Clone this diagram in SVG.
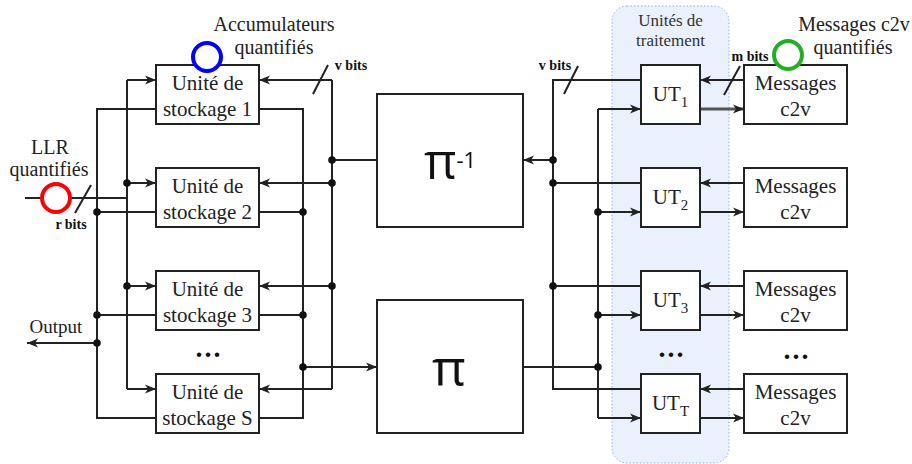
<svg xmlns="http://www.w3.org/2000/svg" width="912" height="464" viewBox="0 0 912 464">
<style>
.box{fill:#fff;stroke:#222;stroke-width:2}
.ln{fill:none;stroke:#222;stroke-width:2}
.ar{fill:none;stroke:#222;stroke-width:2;marker-end:url(#arr)}
.dot{fill:#111}
.t{font-family:"Liberation Serif",serif;font-size:21px;fill:#222;text-anchor:middle}
.lab{font-family:"Liberation Serif",serif;font-size:20px;fill:#222;text-anchor:middle}
.b{font-family:"Liberation Serif",serif;font-size:14px;font-weight:bold;fill:#111;text-anchor:middle}
.pi{font-family:"Open Sans","Noto Sans",sans-serif;fill:#111;text-anchor:middle}
.el{font-family:"Liberation Serif",serif;font-size:28px;font-weight:bold;fill:#111;text-anchor:middle;letter-spacing:2px}
</style>
<defs>
<marker id="arr" markerUnits="userSpaceOnUse" markerWidth="12" markerHeight="10" refX="11" refY="5" orient="auto">
<path d="M0,0.5 L11,5 L0,9.5 L3,5 Z" fill="#222"/>
</marker>
</defs>

<g id="container">
<rect x="612" y="6" width="117" height="457" rx="15" fill="#eaf1fd" stroke="#8fb0df" stroke-width="1" stroke-dasharray="1.5,2"/>
<text class="t" x="670.5" y="26" style="font-size:17px;fill:#333">Unités de</text>
<text class="t" x="670.5" y="46" style="font-size:17px;fill:#333">traitement</text>
</g>

<g id="connectors">
<path class="ln" d="M156,109 H97 V418 H156 M97,212 H156 M97,315 H156"/>
<path class="ar" d="M97,343 H27"/>
<path class="ln" d="M127,80 V389 M25,198 H127"/>
<path class="ar" d="M127,80 H156"/>
<path class="ar" d="M127,183 H156"/>
<path class="ar" d="M127,286 H156"/>
<path class="ar" d="M127,389 H156"/>
<path class="ln" d="M75,213 L91,185"/>
<path class="ln" d="M259,109 H303 V418 H259 M259,212 H303 M259,315 H303"/>
<path class="ar" d="M303,367 H377"/>
<path class="ln" d="M332,80 V389 M377,160 H332 M313,94 L328,65"/>
<path class="ar" d="M332,80 H259"/>
<path class="ar" d="M332,183 H259"/>
<path class="ar" d="M332,286 H259"/>
<path class="ar" d="M332,389 H259"/>
<path class="ln" d="M641,80 H553 V389 H641 M553,183 H641 M553,286 H641 M564,94 L578,66"/>
<path class="ar" d="M553,160 H523"/>
<path class="ln" d="M598,109 V418 M523,367 H598"/>
<path class="ar" d="M598,109 H641"/>
<path class="ar" d="M598,212 H641"/>
<path class="ar" d="M598,315 H641"/>
<path class="ar" d="M598,418 H641"/>
<path class="ar" d="M744,80 H700"/>
<path class="ar" d="M700,109 H744" style="stroke:#555;stroke-width:3"/>
<path class="ar" d="M744,183 H700"/>
<path class="ar" d="M700,212 H744"/>
<path class="ar" d="M744,286 H700"/>
<path class="ar" d="M700,315 H744"/>
<path class="ar" d="M744,389 H700"/>
<path class="ar" d="M700,418 H744"/>
<path class="ln" d="M724,95 L740,66"/>
<g class="dot">
<circle cx="97" cy="212" r="3.8"/><circle cx="97" cy="315" r="3.8"/><circle cx="97" cy="343" r="3.8"/>
<circle cx="127" cy="183" r="3.8"/><circle cx="127" cy="286" r="3.8"/>
<circle cx="303" cy="212" r="3.8"/><circle cx="303" cy="315" r="3.8"/><circle cx="303" cy="367" r="3.8"/>
<circle cx="332" cy="160" r="3.8"/><circle cx="332" cy="183" r="3.8"/><circle cx="332" cy="286" r="3.8"/>
<circle cx="553" cy="160" r="3.8"/><circle cx="553" cy="183" r="3.8"/><circle cx="553" cy="286" r="3.8"/>
<circle cx="598" cy="212" r="3.8"/><circle cx="598" cy="315" r="3.8"/><circle cx="598" cy="367" r="3.8"/>
</g>
<text class="b" x="351" y="70">v bits</text>
<text class="b" x="555" y="70">v bits</text>
<text class="b" x="750" y="61">m bits</text>
<text class="b" x="71" y="229">r bits</text>
<text class="lab" x="56" y="333" style="font-size:19px">Output</text>
</g>

<g id="storage1">
<rect class="box" x="156" y="65" width="103" height="59"/>
<text class="t" x="207.5" y="90">Unité de</text>
<text class="t" x="207.5" y="116">stockage 1</text>
</g>
<g id="storage2">
<rect class="box" x="156" y="168" width="103" height="59"/>
<text class="t" x="207.5" y="193">Unité de</text>
<text class="t" x="207.5" y="219">stockage 2</text>
</g>
<g id="storage3">
<rect class="box" x="156" y="271" width="103" height="59"/>
<text class="t" x="207.5" y="296">Unité de</text>
<text class="t" x="207.5" y="322">stockage 3</text>
</g>
<g id="storageS">
<rect class="box" x="156" y="374" width="103" height="59"/>
<text class="t" x="207.5" y="399">Unité de</text>
<text class="t" x="207.5" y="425">stockage S</text>
</g>
<text class="el" x="209" y="357">...</text>

<g id="piinv">
<rect class="box" x="377" y="94" width="146" height="133"/>
<text class="pi" x="450" y="179" style="font-size:50px">π<tspan style="font-size:22px" dy="-11">-1</tspan></text>
</g>
<g id="pi">
<rect class="box" x="377" y="300" width="146" height="133"/>
<text class="pi" x="449" y="386" style="font-size:52px">π</text>
</g>

<g id="ut1">
<rect class="box" x="641" y="65" width="59" height="59"/>
<text class="t" x="670.5" y="101">UT<tspan style="font-size:15px" dy="6">1</tspan></text>
</g>
<g id="ut2">
<rect class="box" x="641" y="168" width="59" height="59"/>
<text class="t" x="670.5" y="204">UT<tspan style="font-size:15px" dy="6">2</tspan></text>
</g>
<g id="ut3">
<rect class="box" x="641" y="271" width="59" height="59"/>
<text class="t" x="670.5" y="307">UT<tspan style="font-size:15px" dy="6">3</tspan></text>
</g>
<g id="utT">
<rect class="box" x="641" y="374" width="59" height="59"/>
<text class="t" x="670.5" y="410">UT<tspan style="font-size:15px" dy="6">T</tspan></text>
</g>
<text class="el" x="672" y="357">...</text>

<g id="msg1">
<rect class="box" x="744" y="65" width="103" height="59"/>
<text class="t" x="795.5" y="90">Messages</text>
<text class="t" x="795.5" y="116">c2v</text>
</g>
<g id="msg2">
<rect class="box" x="744" y="168" width="103" height="59"/>
<text class="t" x="795.5" y="193">Messages</text>
<text class="t" x="795.5" y="219">c2v</text>
</g>
<g id="msg3">
<rect class="box" x="744" y="271" width="103" height="59"/>
<text class="t" x="795.5" y="296">Messages</text>
<text class="t" x="795.5" y="322">c2v</text>
</g>
<g id="msgT">
<rect class="box" x="744" y="374" width="103" height="59"/>
<text class="t" x="795.5" y="399">Messages</text>
<text class="t" x="795.5" y="425">c2v</text>
</g>
<text class="el" x="797" y="359">...</text>

<g id="acc-quant">
<circle cx="207" cy="57" r="14" fill="#fff" stroke="#0000ff" stroke-width="4"/>
<text class="lab" x="274" y="31">Accumulateurs</text>
<text class="lab" x="274" y="54">quantifiés</text>
</g>
<g id="llr-quant">
<circle cx="56" cy="198" r="14" fill="#fff" stroke="#ff0000" stroke-width="4"/>
<text class="lab" x="50" y="154">LLR</text>
<text class="lab" x="49" y="176">quantifiés</text>
</g>
<g id="c2v-quant">
<circle cx="788" cy="55" r="14" fill="#fff" stroke="#22b022" stroke-width="4"/>
<text class="lab" x="854" y="31">Messages c2v</text>
<text class="lab" x="853" y="54">quantifiés</text>
</g>
</svg>
